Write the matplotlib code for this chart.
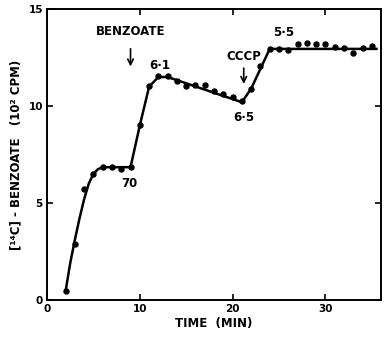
import matplotlib.pyplot as plt
import numpy as np

# measured points (time in min, counts in 10^2 CPM)
time_min = [2, 3, 4, 5, 6, 7, 8, 9, 10, 11, 12, 13, 14, 15, 16, 17, 18, 19, 20,
            21, 22, 23, 24, 25, 26, 27, 28, 29, 30, 31, 32, 33, 34, 35]
counts = [0.45, 2.9, 5.75, 6.5, 6.87, 6.87, 6.78, 6.87, 9.02, 11.03, 11.55, 11.55,
          11.29, 11.03, 11.08, 11.08, 10.77, 10.6, 10.45, 10.27, 10.86, 12.06,
          12.92, 12.92, 12.89, 13.18, 13.23, 13.18, 13.18, 13.06, 13.0, 12.75,
          13.0, 13.09]

# hand-drawn fitted curve
fit_t = [2, 2.5, 3, 3.5, 4, 4.5, 5, 5.5, 6, 9, 10, 11, 12, 13, 21, 22, 24, 35.5]
fit_y = [0.45, 1.9, 3.1, 4.2, 5.2, 6.0, 6.5, 6.75, 6.85, 6.85, 9.0, 11.0, 11.5,
         11.5, 10.2, 10.9, 12.95, 12.95]

# numbers written along the curve
notes = ['70', '6\u00b71', '6\u00b75', '5\u00b75']
note_x = [8.9, 12.1, 21.2, 25.5]
note_y = [6.0, 12.1, 9.4, 13.8]

fig = plt.figure(figsize=(3.84, 3.39), dpi=100)
ax = fig.add_axes([0.1224, 0.115, 0.87, 0.858])

ax.plot(fit_t, fit_y, color='black', lw=1.8, zorder=2)
ax.plot(time_min, counts, 'o', color='black', ms=3.6, zorder=3)

for s, x, y in zip(notes, note_x, note_y):
    ax.text(x, y, s, ha='center', va='center', fontsize=8.5, fontweight='bold')

ax.text(9.0, 13.85, 'BENZOATE', ha='center', va='center', fontsize=8.5,
        fontweight='bold')
ax.annotate('', xy=(9.0, 11.9), xytext=(9.0, 13.1),
            arrowprops=dict(arrowstyle='->', color='black', lw=1.2))
ax.text(21.2, 12.55, 'CCCP', ha='center', va='center', fontsize=8.5,
        fontweight='bold')
ax.annotate('', xy=(21.2, 11.0), xytext=(21.2, 12.1),
            arrowprops=dict(arrowstyle='->', color='black', lw=1.2))

ax.set_xlim(0, 36)
ax.set_ylim(0, 15)
ax.set_xticks([0, 10, 20, 30])
ax.set_yticks([0, 5, 10, 15])
ax.tick_params(direction='in', length=4, width=1.2, labelsize=7.5,
               top=True, right=True, pad=3)
for lab in ax.get_xticklabels() + ax.get_yticklabels():
    lab.set_fontweight('bold')
for sp in ax.spines.values():
    sp.set_linewidth(1.4)

ax.set_xlabel('TIME  (MIN)', fontsize=8.5, fontweight='bold', labelpad=2)
ax.set_ylabel('[\u00b9\u2074C] - BENZOATE   (10\u00b2 CPM)', fontsize=8.5,
              fontweight='bold', labelpad=4)

fig.savefig('out.png', dpi=100)
